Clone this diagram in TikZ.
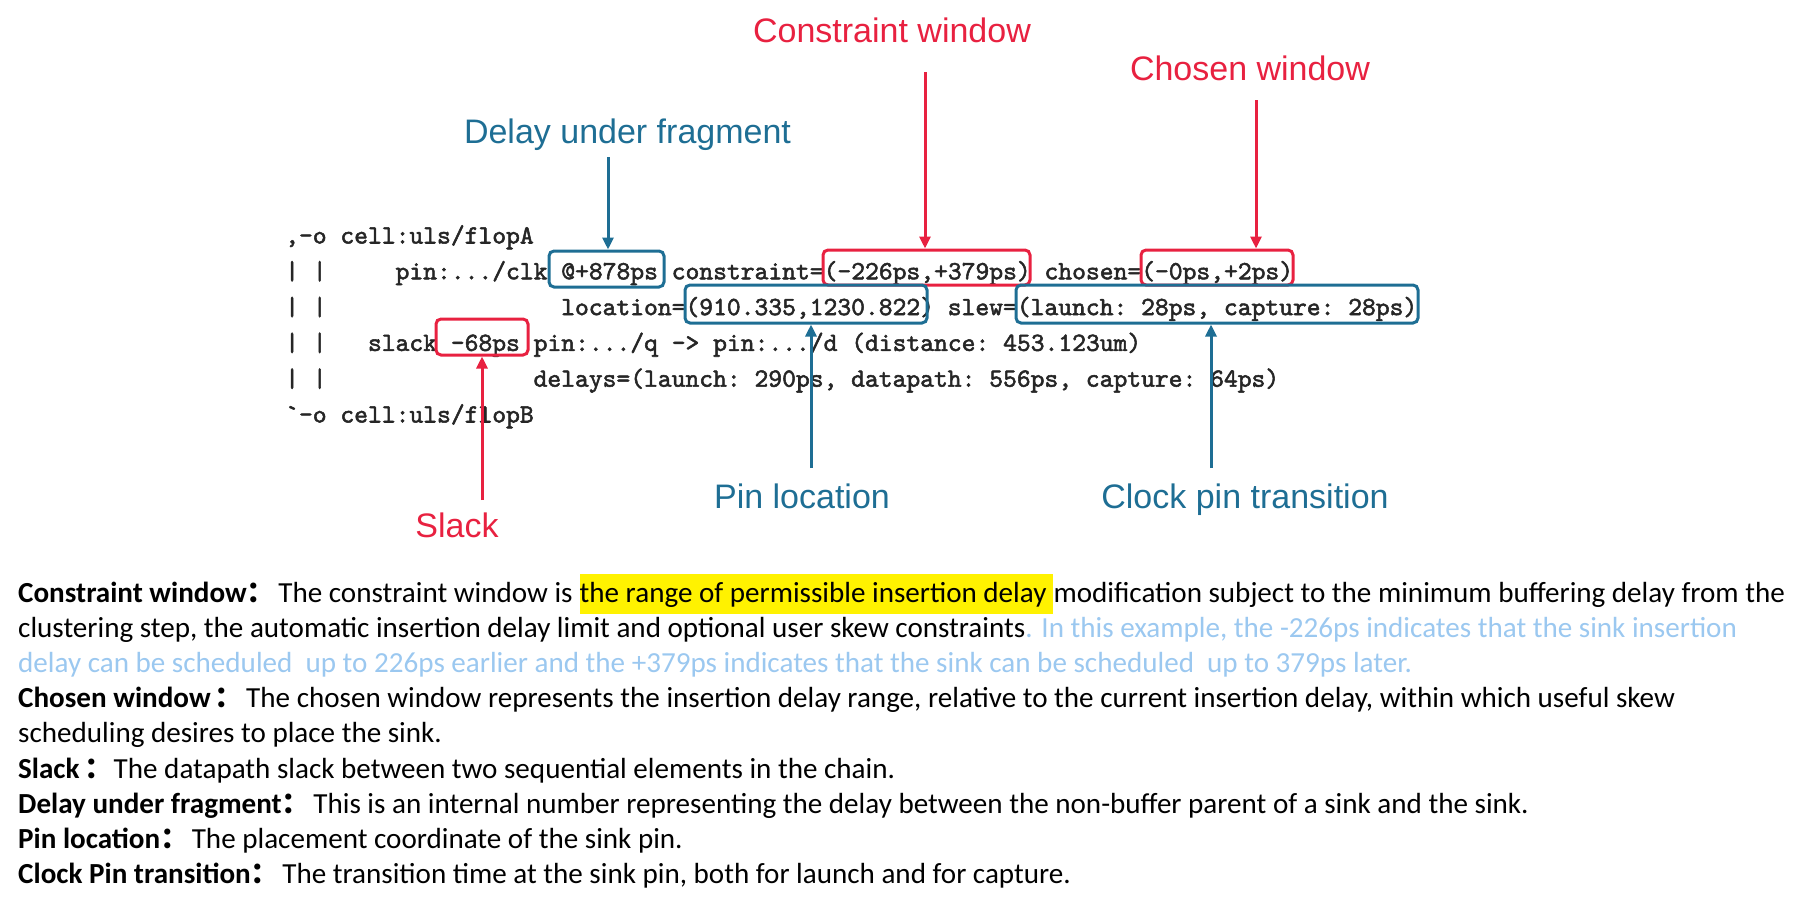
\documentclass[tikz,border=0pt]{standalone}
\usepackage{fontspec}
\setmainfont{Carlito}
\setsansfont{Liberation Sans}
\newfontfamily\cjk{Noto Sans CJK SC}
\newfontfamily\codefont{lmmono10-regular.otf}[FakeBold=2]
\usetikzlibrary{arrows.meta}
\definecolor{cred}{RGB}{232,33,64}
\definecolor{cblue}{RGB}{30,110,148}
\definecolor{clight}{RGB}{155,200,240}
\newcommand\gapc{\hspace{2.5pt}}
\begin{document}
\begin{tikzpicture}[x=1pt,y=-1pt,
  code/.style={anchor=base west,inner sep=0pt,font=\codefont\fontsize{26.3}{30}\selectfont\frenchspacing,text=black!85},
  lbl/.style={anchor=base,inner sep=0pt,font=\sffamily\fontsize{34}{40}\selectfont},
  rlbl/.style={lbl,text=cred},
  blbl/.style={lbl,text=cblue},
  rbox/.style={draw=cred,line width=3pt,rounded corners=5pt,inner sep=0pt},
  bbox/.style={draw=cblue,line width=3pt,rounded corners=5pt,inner sep=0pt},
  rarr/.style={draw=cred,line width=3pt,-{Triangle[length=12pt,width=11pt]}},
  barr/.style={draw=cblue,line width=3pt,-{Triangle[length=12pt,width=11pt]}},
  body/.style={anchor=base west,inner sep=0pt,font=\fontsize{29.1}{35}\selectfont}
]
\useasboundingbox (0,0) rectangle (1817,910);

% ---- labels ----
\node[rlbl] (lcon) at (892,42) {Constraint window};
\node[rlbl] (lcho) at (1250,80) {Chosen window};
\node[blbl] (ldel) at (627.5,143) {Delay under fragment};
\node[rlbl] (lsl) at (457,537) {Slack};
\node[blbl] (lloc) at (802,508) {Pin location};
\node[blbl] (lclk) at (1245,508) {Clock pin transition};

% ---- code listing ----
\def\cx#1{{285+#1*13.8}}
\node[code] (c1) at (\cx{0},243.5) {,-o cell:uls/flopA};
\node[code] (c2a) at (\cx{0},279.3) {| |};
\node[code] (c2b) at (\cx{8},279.3) {pin:.../clk @+878ps constraint=(-226ps,+379ps) chosen=(-0ps,+2ps)};
\node[code] (c3a) at (\cx{0},315.1) {| |};
\node[code] (c3b) at (\cx{20},315.1) {location=(910.335,1230.822) slew=(launch: 28ps, capture: 28ps)};
\node[code] (c4a) at (\cx{0},350.9) {| |};
\node[code] (c4b) at (\cx{6},350.9) {slack -68ps pin:.../q -> pin:.../d (distance: 453.123um)};
\node[code] (c5a) at (\cx{0},386.7) {| |};
\node[code] (c5b) at (\cx{18},386.7) {delays=(launch: 290ps, datapath: 556ps, capture: 64ps)};
\node[code] (c6) at (\cx{0},422.5) {`-o cell:uls/flopB};

% ---- boxes ----
\node[bbox,minimum width=115pt,minimum height=36pt] (bdel) at (606.5,269) {};
\node[rbox,minimum width=207pt,minimum height=35pt] (bcon) at (926.5,267.5) {};
\node[rbox,minimum width=152pt,minimum height=35pt] (bcho) at (1217,267.5) {};
\node[bbox,minimum width=242pt,minimum height=38pt] (bloc) at (806,304) {};
\node[bbox,minimum width=402pt,minimum height=38pt] (bslew) at (1217,304) {};
\node[rbox,minimum width=92pt,minimum height=36pt] (bsl) at (482,337) {};

% ---- arrows ----
\coordinate (sdel) at (608,157);
\coordinate (scon) at (925,72);
\coordinate (scho) at (1256,100);
\coordinate (ssl) at (482,500);
\coordinate (sloc) at (811,468);
\coordinate (sclk) at (1211,468);
\draw[barr] (sdel) -- (sdel |- bdel.north);
\draw[rarr] (scon) -- (scon |- bcon.north);
\draw[rarr] (scho) -- (scho |- bcho.north);
\draw[rarr] (ssl) -- (ssl |- bsl.south);
\draw[barr] (sloc) -- (sloc |- bloc.south);
\draw[barr] (sclk) -- (sclk |- bslew.south);

% ---- explanation text ----
\node[body] (t1a) at (18,602.5) {\textbf{Constraint window}{\cjk\bfseries ：}\gapc The constraint window is\ \mbox{}};
\node[body,fill=yellow,text height=29pt,text depth=11pt] (t1b) at (t1a.base east) {the range of permissible insertion delay\ \mbox{}};
\node[body] (t1c) at (t1b.base east) {modification subject to the minimum buffering delay from the};
\node[body] (t2) at (18,637.6) {clustering step, the automatic insertion delay limit and optional user skew constraints\textcolor{clight}{. In this example, the -226ps indicates that the sink insertion}};
\node[body,text=clight] (t3) at (18,672.7) {delay can be scheduled\ \ up to 226ps earlier and the +379ps indicates that the sink can be scheduled\ \ up to 379ps later.};
\node[body] (t4) at (18,707.8) {\textbf{Chosen window}\hspace{4pt}{\cjk\bfseries ：}\gapc The chosen window represents the insertion delay range, relative to the current insertion delay, within which useful skew};
\node[body] (t5) at (18,742.9) {scheduling desires to place the sink.};
\node[body] (t6) at (18,778) {\textbf{Slack}\hspace{5pt}{\cjk\bfseries ：}The datapath slack between two sequential elements in the chain.};
\node[body] (t7) at (18,813.1) {\textbf{Delay under fragment}{\cjk\bfseries ：}\gapc This is an internal number representing the delay between the non-buffer parent of a sink and the sink.};
\node[body] (t8) at (18,848.2) {\textbf{Pin location}{\cjk\bfseries ：}\gapc The placement coordinate of the sink pin.};
\node[body] (t9) at (18,883.3) {\textbf{Clock Pin transition}{\cjk\bfseries ：}\gapc The transition time at the sink pin, both for launch and for capture.};
\end{tikzpicture}
\end{document}
